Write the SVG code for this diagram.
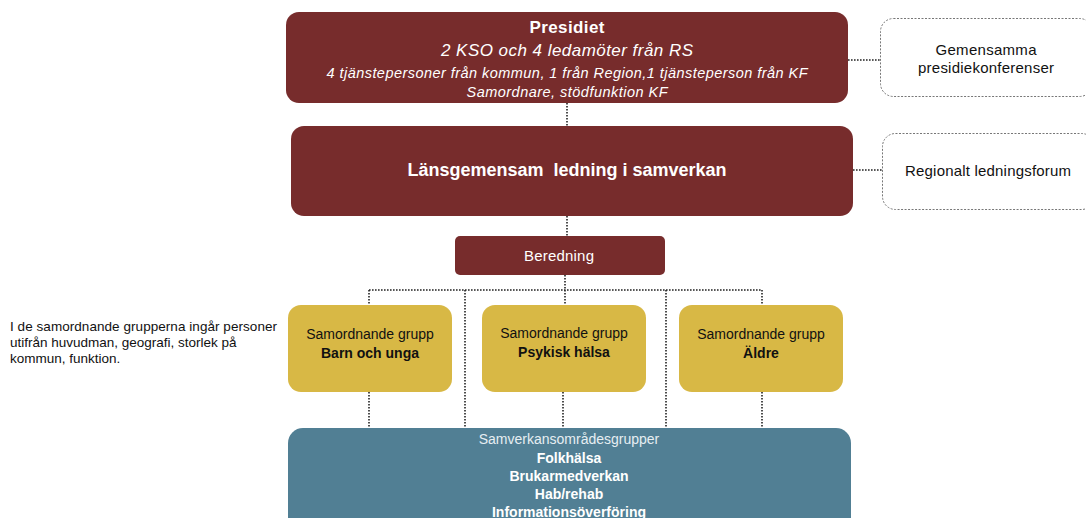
<svg xmlns="http://www.w3.org/2000/svg" width="1086" height="518" viewBox="0 0 1086 518">
<style>
text{font-family:"Liberation Sans",Arial,sans-serif;text-anchor:middle}
.m{fill:#772C2C}
.y{fill:#D8B845}
.t{fill:#517F94}
.o{fill:#fff;stroke:#777;stroke-width:1;stroke-dasharray:2 1.5}
.w{fill:#fff}
.k{fill:#111}
.c{fill:none;stroke:#222;stroke-width:1.6;stroke-dasharray:1.6 1.4}
</style>
<rect width="1086" height="518" fill="#fff"/>
<g id="connectors">
<path class="c" d="M567 103V126M567 216V236M565 275V290M369 290H762M369 290V305M465 290V428M565 290V305M666 290V428M762 290V305M369 392V428M563 392V428M762 392V428M848 60H880M853 170H882"/>
</g>
<g id="presidiet">
<rect class="m" x="286" y="12" width="562" height="91" rx="13"/>
<text x="567" y="33" class="w" font-size="17" font-weight="bold" textLength="75">Presidiet</text>
<text x="567" y="56" class="w" font-size="17" font-style="italic" textLength="252">2 KSO och 4 ledamöter från RS</text>
<text x="567" y="78" class="w" font-size="14.5" font-style="italic" textLength="481">4 tjänstepersoner från kommun, 1 från Region,1 tjänsteperson från KF</text>
<text x="567" y="97" class="w" font-size="14.5" font-style="italic" textLength="201">Samordnare, stödfunktion KF</text>
</g>
<g id="gemensamma">
<rect class="o" x="880.5" y="18.5" width="212" height="78" rx="13"/>
<text x="986" y="55" class="k" font-size="15" textLength="101">Gemensamma</text>
<text x="986" y="73" class="k" font-size="15" textLength="136">presidiekonferenser</text>
</g>
<g id="lansgemensam">
<rect class="m" x="291" y="126" width="562" height="90" rx="13"/>
<text x="567" y="176" class="w" font-size="18" font-weight="bold" xml:space="preserve" textLength="319">Länsgemensam  ledning i samverkan</text>
</g>
<g id="regionalt">
<rect class="o" x="882.5" y="133.5" width="212" height="76" rx="13"/>
<text x="988" y="176" class="k" font-size="15" textLength="166">Regionalt ledningsforum</text>
</g>
<g id="beredning">
<rect class="m" x="455" y="236" width="210" height="39" rx="5"/>
<text x="559" y="261" class="w" font-size="15" textLength="70">Beredning</text>
</g>
<g id="note">
<text x="10" y="331" class="k" font-size="13.5" style="text-anchor:start" textLength="267">I de samordnande grupperna ingår personer</text>
<text x="10" y="347" class="k" font-size="13.5" style="text-anchor:start">utifrån huvudman, geografi, storlek på</text>
<text x="10" y="363" class="k" font-size="13.5" style="text-anchor:start">kommun, funktion.</text>
</g>
<g id="barn">
<rect class="y" x="288" y="305" width="164" height="87" rx="13"/>
<text x="370" y="339" class="k" font-size="14">Samordnande grupp</text>
<text x="370" y="358" class="k" font-size="14" font-weight="bold">Barn och unga</text>
</g>
<g id="psykisk">
<rect class="y" x="482" y="305" width="164" height="87" rx="13"/>
<text x="564" y="338" class="k" font-size="14">Samordnande grupp</text>
<text x="564" y="357" class="k" font-size="14" font-weight="bold">Psykisk hälsa</text>
</g>
<g id="aldre">
<rect class="y" x="679" y="305" width="164" height="87" rx="13"/>
<text x="761" y="339" class="k" font-size="14">Samordnande grupp</text>
<text x="761" y="358" class="k" font-size="14" font-weight="bold">Äldre</text>
</g>
<g id="samverkan">
<rect class="t" x="288" y="428" width="563" height="110" rx="15"/>
<text x="569" y="444" fill="#E6EEF2" font-size="14">Samverkansområdesgrupper</text>
<text x="569" y="463" class="w" font-size="14" font-weight="bold">Folkhälsa</text>
<text x="569" y="481" class="w" font-size="14" font-weight="bold">Brukarmedverkan</text>
<text x="569" y="499" class="w" font-size="14" font-weight="bold">Hab/rehab</text>
<text x="569" y="517" class="w" font-size="14" font-weight="bold">Informationsöverföring</text>
</g>
</svg>
